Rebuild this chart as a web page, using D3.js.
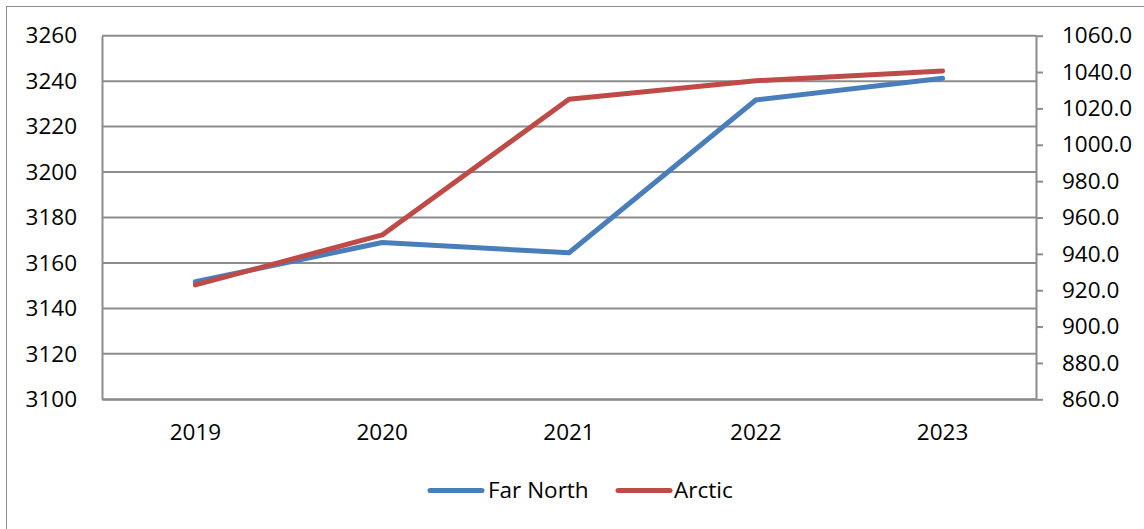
<!DOCTYPE html>
<html>
<head>
<meta charset="utf-8">
<script src="https://cdn.jsdelivr.net/npm/d3@7"></script>
<style>
  html, body { margin: 0; padding: 0; background: #fff; }
  svg { display: block; }
  text { font-family: "Open Sans", sans-serif; fill: #000; }
</style>
</head>
<body>
<svg id="chart" width="1144" height="529"></svg>
<script>
const years = ["2019", "2020", "2021", "2022", "2023"];
const farNorth = [3151.7, 3169.0, 3164.5, 3231.7, 3241.3];
const arctic = [922.9, 950.4, 1025.0, 1035.2, 1040.6];
const leftTicks = [3100, 3120, 3140, 3160, 3180, 3200, 3220, 3240, 3260];
const rightTicks = [860, 880, 900, 920, 940, 960, 980, 1000, 1020, 1040, 1060];
const seriesNames = ["Far North", "Arctic"];
const seriesColors = ["#4a7ebb", "#be4b48"];

const svg = d3.select("#chart");
const W = 1144, H = 529;
const m = { left: 102, right: 1036, top: 35.7, bottom: 399.3 };
const FS = "22.5px";

// outer frame
svg.append("rect").attr("x", 6.5).attr("y", 6.5).attr("width", W).attr("height", H)
  .attr("fill", "none").attr("stroke", "#8c8c8c").attr("stroke-width", 1);

const x = d3.scaleBand().domain(years).range([m.left, m.right]).paddingInner(0).paddingOuter(0);
const yL = d3.scaleLinear().domain([3100, 3260]).range([m.bottom, m.top]);
const yR = d3.scaleLinear().domain([860, 1060]).range([m.bottom, m.top]);

// gridlines
svg.append("g").selectAll("line").data(leftTicks).join("line")
  .attr("x1", m.left).attr("x2", m.right)
  .attr("y1", d => yL(d)).attr("y2", d => yL(d))
  .attr("stroke", "#8c8c8c").attr("stroke-width", 2);

// left axis
const gL = svg.append("g").attr("transform", `translate(${m.left},0)`)
  .call(d3.axisLeft(yL).tickValues(leftTicks).tickSize(0).tickPadding(25).tickFormat(d3.format("d")));
gL.select(".domain").attr("stroke", "#8c8c8c").attr("stroke-width", 2);
gL.selectAll("text").style("font-size", FS).style("font-family", "'Open Sans', sans-serif").attr("fill", "#000");

// right axis
const gR = svg.append("g").attr("transform", `translate(${m.right},0)`)
  .call(d3.axisRight(yR).tickValues(rightTicks).tickSize(7).tickSizeOuter(0).tickPadding(19).tickFormat(d3.format(".1f")));
gR.select(".domain").attr("stroke", "#8c8c8c").attr("stroke-width", 2);
gR.selectAll(".tick line").attr("stroke", "#8c8c8c").attr("stroke-width", 2);
gR.selectAll("text").style("font-size", FS).style("font-family", "'Open Sans', sans-serif").attr("fill", "#000");

// bottom axis
const gB = svg.append("g").attr("transform", `translate(0,${m.bottom})`)
  .call(d3.axisBottom(x).tickSize(0).tickPadding(25));
gB.select(".domain").attr("stroke", "#8c8c8c").attr("stroke-width", 2);
gB.selectAll("text").style("font-size", FS).style("font-family", "'Open Sans', sans-serif").attr("fill", "#000");

const cx = d => x(d) + x.bandwidth() / 2;

// lines
const lineL = d3.line().x((d, i) => cx(years[i])).y(d => yL(d));
const lineR = d3.line().x((d, i) => cx(years[i])).y(d => yR(d));
svg.append("path").datum(farNorth).attr("d", lineL)
  .attr("fill", "none").attr("stroke", seriesColors[0]).attr("stroke-width", 5)
  .attr("stroke-linecap", "round").attr("stroke-linejoin", "round");
svg.append("path").datum(arctic).attr("d", lineR)
  .attr("fill", "none").attr("stroke", seriesColors[1]).attr("stroke-width", 5)
  .attr("stroke-linecap", "round").attr("stroke-linejoin", "round");

// legend
const legendY = 490.5;
const legendItems = [
  { name: seriesNames[0], color: seriesColors[0], x0: 430, x1: 482, tx: 488 },
  { name: seriesNames[1], color: seriesColors[1], x0: 618, x1: 670, tx: 674 }
];
const lg = svg.append("g");
legendItems.forEach(it => {
  lg.append("line").attr("x1", it.x0).attr("x2", it.x1).attr("y1", legendY).attr("y2", legendY)
    .attr("stroke", it.color).attr("stroke-width", 5).attr("stroke-linecap", "round");
  lg.append("text").attr("x", it.tx).attr("y", legendY).attr("dy", "0.35em")
    .style("font-size", FS).text(it.name);
});
</script>
</body>
</html>
